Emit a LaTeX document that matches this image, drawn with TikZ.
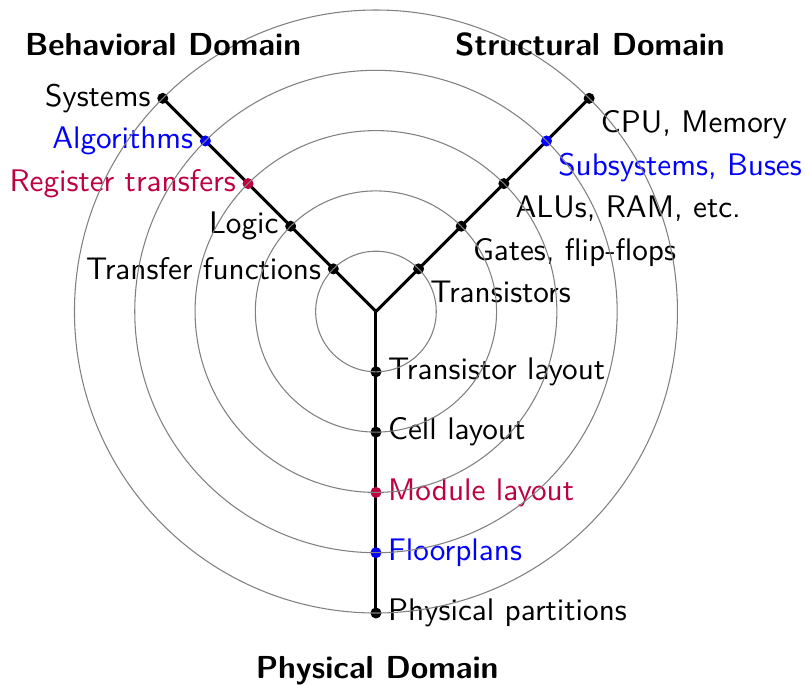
\documentclass[tikz,border=0pt]{standalone}
\definecolor{regcol}{rgb}{0.75,0,0.25}
\begin{document}
\begin{tikzpicture}[scale=0.6995,font=\sffamily\fontsize{10.3}{12.4}\selectfont,
  ring/.style={gray,line width=0.35pt},
  axisline/.style={black,line width=1pt},
  dotnode/.style={circle,fill=#1,inner sep=0pt,minimum size=3pt},
  dotnode/.default=black,
  label distance=-1.2pt,
  domainlabel/.style={font=\sffamily\bfseries\fontsize{10.5}{12.6}\selectfont,anchor=base}]
\useasboundingbox (-6.235,-6.194) rectangle (7.115,5.166);
\coordinate (O) at (0,0);
% dots
\node[dotnode] (b5) at (135:5) [label={left:Systems}] {};
\node[dotnode=blue] (b4) at (135:4) [label={[text=blue]left:Algorithms}] {};
\node[dotnode=regcol] (b3) at (135:3) [label={[text=regcol]left:Register transfers}] {};
\node[dotnode] (b2) at (135:2) [label={left:Logic}] {};
\node[dotnode] (b1) at (135:1) [label={left:Transfer functions}] {};
\node[dotnode] (s5) at (45:5) [label={below right:CPU, Memory}] {};
\node[dotnode=blue] (s4) at (45:4) [label={[text=blue]below right:Subsystems, Buses}] {};
\node[dotnode] (s3) at (45:3) [label={below right:ALUs, RAM, etc.}] {};
\node[dotnode] (s2) at (45:2) [label={below right:Gates, flip-flops}] {};
\node[dotnode] (s1) at (45:1) [label={below right:Transistors}] {};
\node[dotnode] (p1) at (-90:1) [label={right:Transistor layout}] {};
\node[dotnode] (p2) at (-90:2) [label={right:Cell layout}] {};
\node[dotnode=regcol] (p3) at (-90:3) [label={[text=regcol]right:Module layout}] {};
\node[dotnode=blue] (p4) at (-90:4) [label={[text=blue]right:Floorplans}] {};
\node[dotnode] (p5) at (-90:5) [label={right:Physical partitions}] {};
\draw[axisline] (O) -- (b5.center);
\draw[axisline] (O) -- (s5.center);
\draw[axisline] (O) -- (p5.center);
\foreach \n/\c in {b5/black,b4/blue,b3/regcol,b2/black,b1/black,s5/black,s4/blue,s3/black,s2/black,s1/black,p1/black,p2/black,p3/regcol,p4/blue,p5/black}
  \fill[\c] (\n.center) circle[radius=2.6pt];
\foreach \r in {1,...,5} \draw[ring] (O) circle[radius=\r];
\node[domainlabel] (bd) at (-3.53,4.25) {Behavioral Domain};
\node[domainlabel] (sd) at (3.55,4.25) {Structural Domain};
\node[domainlabel] (pd) at (0.02,-6.08) {Physical Domain};
\end{tikzpicture}
\end{document}
